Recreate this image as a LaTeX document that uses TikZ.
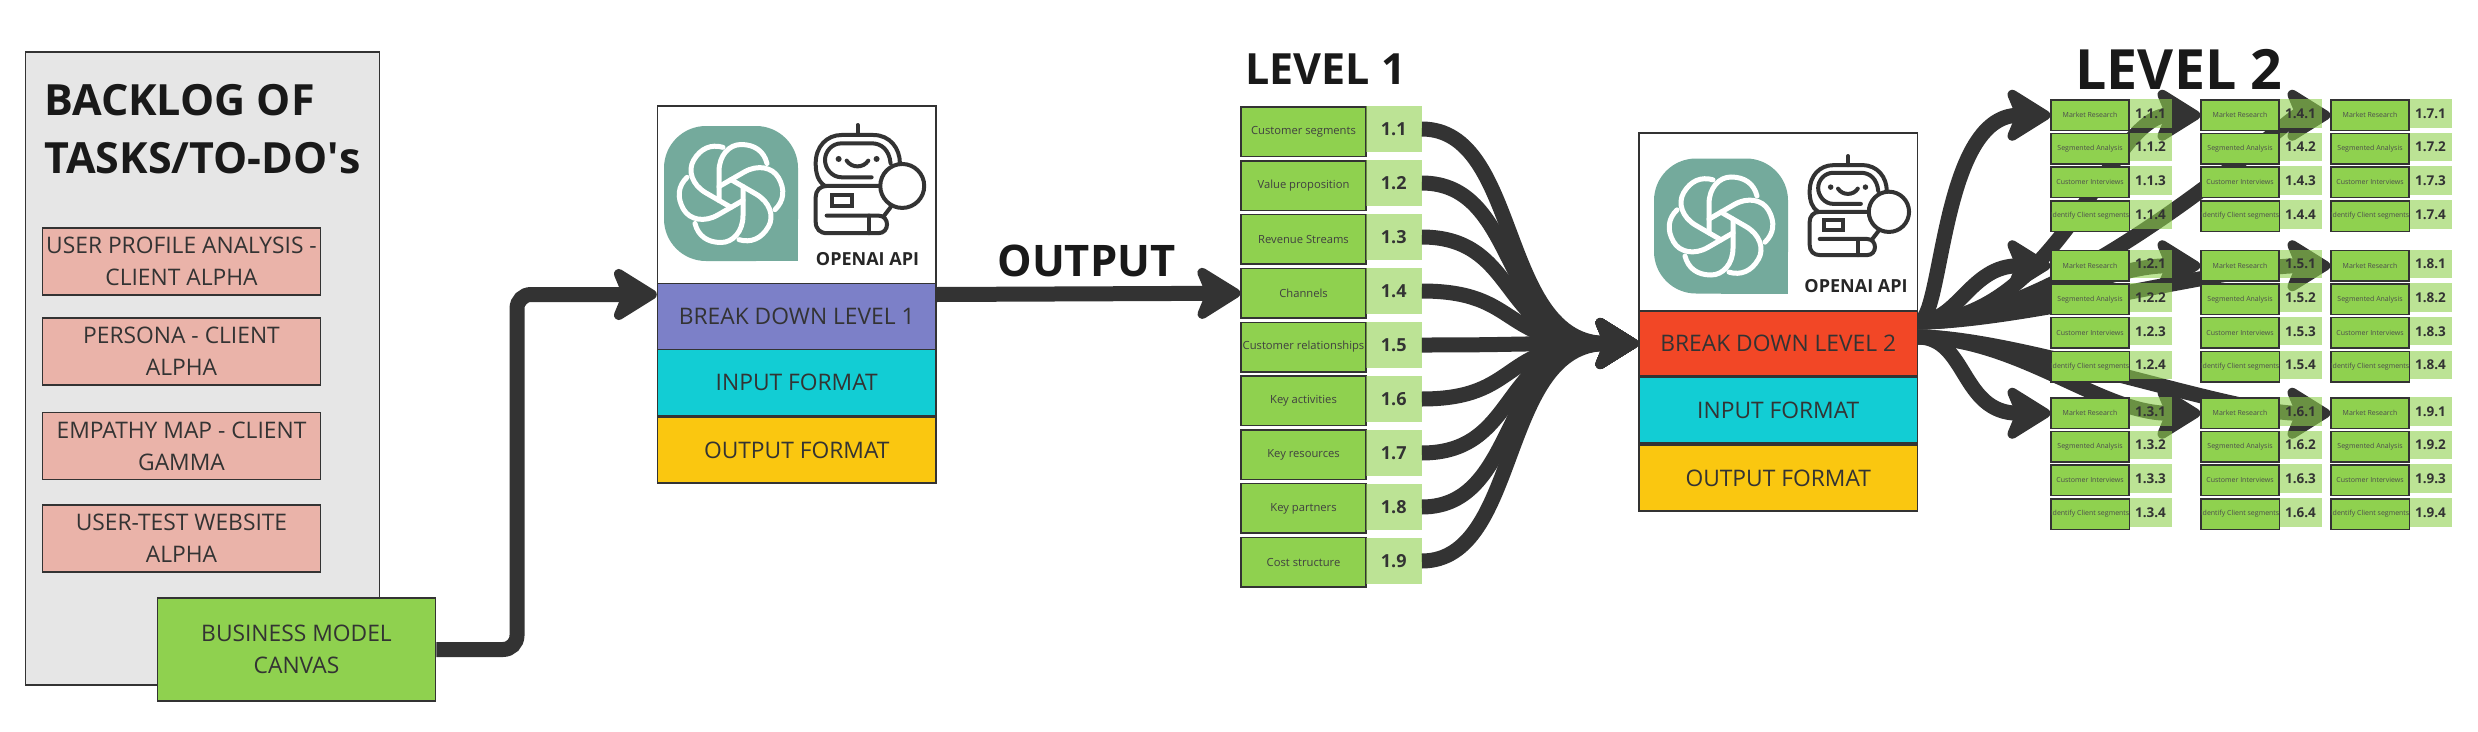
\documentclass[tikz,border=0pt]{standalone}
\usepackage{fontspec}
\setmainfont{Open Sans}
\usepackage{tikz}
\usetikzlibrary{arrows.meta}
\usetikzlibrary{backgrounds}
\definecolor{backloggrey}{HTML}{E6E6E6}
\definecolor{taskred}{HTML}{EAB3A9}
\definecolor{canvasgreen}{HTML}{8FD14F}
\definecolor{bandblue}{HTML}{7C80C8}
\definecolor{bandcyan}{HTML}{12CDD4}
\definecolor{bandyellow}{HTML}{FAC710}
\definecolor{bandred}{HTML}{F24726}
\definecolor{logogreen}{HTML}{74AA9C}
\definecolor{linegrey}{HTML}{333333}
\tikzset{
  bigarrow/.style={draw=linegrey,line width=15pt,-{Stealth[length=52pt,width=64pt,inset=13pt,round]}},
  taskbox/.style={draw=linegrey,line width=1.5pt,fill=taskred,minimum width=278pt,minimum height=67pt,inner sep=0pt,align=center,font=\fontsize{22.8}{32}\selectfont,text=black!80},
  apibox/.style={draw=linegrey,line width=1.5pt,fill=white,minimum width=278.5pt,inner sep=0pt},
  bandbox/.style={draw=linegrey,line width=1.5pt,minimum width=278.5pt,minimum height=66pt,inner sep=0pt,font=\fontsize{22.8}{26}\selectfont,text=black!80},
  segbox/.style={draw=linegrey,line width=1.5pt,fill=canvasgreen,minimum width=125pt,minimum height=49.5pt,inner sep=0pt,font=\fontsize{11.2}{14}\selectfont,text=black!75},
  segnum/.style={fill=canvasgreen,fill opacity=.6,text opacity=1,minimum width=55.5pt,minimum height=46pt,inner sep=0pt,font=\fontsize{18}{20}\selectfont\bfseries,text=black!80},
  cellbox/.style={draw=linegrey,line width=1.5pt,fill=canvasgreen,minimum width=78pt,minimum height=30.5pt,inner sep=0pt,font=\fontsize{7}{9}\selectfont,text=black!70},
  cellnum/.style={fill=canvasgreen,fill opacity=.6,text opacity=1,minimum width=42pt,minimum height=28.5pt,inner sep=0pt,font=\fontsize{13.5}{15}\selectfont\bfseries,text=black!80},
  headline/.style={inner sep=0pt,text=black!90},
}
\newcommand{\gptlogo}[2]{
  \begin{scope}[shift={(#1,#2)}]
    \fill[logogreen,rounded corners=42pt] (-67,-67.5) rectangle (67,67.5);
    \fill[logogreen] (0,0) rectangle (67,67.5);
    \foreach \a in {0,60,...,300}
      \draw[white,line width=5pt,line cap=round,rotate=\a] (-12,7) -- (-12,-22) .. controls (-12,-38) and (-2,-49) .. (10,-49) .. controls (24,-49) and (33,-42) .. (36,-30);
  \end{scope}
}
\newcommand{\robotlogo}[3]{
  \begin{scope}[shift={(#1,#2)},scale=#3,linegrey,line width=4pt,line cap=round]
    \draw (128,0) -- (128,30);
    \draw (30,183) .. controls (10,170) and (2,147) .. (2,115) .. controls (2,65) and (35,30) .. (80,30) -- (175,30) .. controls (225,30) and (255,70) .. (255,115);
    \draw (170,157) -- (80,157) .. controls (50,157) and (30,130) .. (30,105) .. controls (30,80) and (50,55) .. (80,55) -- (170,55) .. controls (200,55) and (223,75) .. (227,115);
    \fill (71,102) circle (9) (185,102) circle (9);
    \draw (95,107) .. controls (110,130) and (145,130) .. (160,107);
    \draw (195,183) -- (35,183) .. controls (15,183) and (2,197) .. (2,217) -- (2,290) .. controls (2,313) and (15,325) .. (37,325) -- (190,325) .. controls (225,325) and (225,272) .. (190,272) -- (35,272);
    \draw (162,272) -- (162,325);
    \draw (50,210) rectangle (110,243);
    \draw (262,183) circle (66);
    \draw (227,247) -- (207,273);
  \end{scope}
}
\begin{document}
\begin{tikzpicture}[x=1pt,y=-1pt]
  \useasboundingbox (0,0) rectangle (2478,731);
  \node[draw=linegrey,line width=1.5pt,fill=backloggrey,minimum width=354pt,minimum height=633pt] (backlog) at (202.5,368.5) {};
  \node[headline,anchor=west,align=left,font=\fontsize{43}{58}\selectfont\bfseries] (backlogtitle) at (44,129) {BACKLOG OF\\TASKS/TO-DO\textquotesingle s};
  \node[taskbox] (taskA) at (181.5,261.5) {USER PROFILE ANALYSIS -\\CLIENT ALPHA};
  \node[taskbox] (taskB) at (181.5,351.5) {PERSONA - CLIENT\\ALPHA};
  \node[taskbox] (taskC) at (181.5,446) {EMPATHY MAP - CLIENT\\GAMMA};
  \node[taskbox] (taskD) at (181.5,538.5) {USER-TEST WEBSITE\\ALPHA};
  \node[taskbox,fill=canvasgreen,minimum height=103pt] (canvas) at (296.5,649.5) {BUSINESS MODEL\\CANVAS};
  \coordinate (elbowA) at (517,470);

  \node[apibox,minimum height=377pt] (apiA) at (796.75,294.5) {};
  \node[bandbox,fill=bandblue] (brkA) at (796.75,316.5) {BREAK DOWN LEVEL 1};
  \node[bandbox,fill=bandcyan] (inA) at (796.75,382.5) {INPUT FORMAT};
  \node[bandbox,fill=bandyellow] (outA) at (796.75,450) {OUTPUT FORMAT};
  \gptlogo{731}{193.5}
  \robotlogo{815}{125}{.333}
  \node[inner sep=0pt,font=\fontsize{18}{20}\selectfont\bfseries,text=black!85] (apiAname) at (867.5,259) {OPENAI API};

  \node[headline,font=\fontsize{43.5}{48}\selectfont\bfseries] (outputlabel) at (1086.5,260.5) {OUTPUT};
  \node[headline,font=\fontsize{43}{48}\selectfont\bfseries] (levelA) at (1325.5,69) {LEVEL 1};
  \node[headline,font=\fontsize{55.5}{60}\selectfont\bfseries] (levelB) at (2179,69) {LEVEL 2};

  \foreach \i/\lbl in {1/Customer segments,2/Value proposition,3/Revenue Streams,4/Channels,5/Customer relationships,6/Key activities,7/Key resources,8/Key partners,9/Cost structure} {
    \node[segbox] (seg\i) at (1303.5,{131.8+53.8*(\i-1)}) {\lbl};
    \node[segnum] (num\i) at (1393.75,{129+54*(\i-1)}) {1.\i};
  }

  \node[apibox,minimum height=378pt] (apiB) at (1778.25,322) {};
  \node[bandbox,fill=bandred,minimum height=65pt] (brkB) at (1778.25,343.5) {BREAK DOWN LEVEL 2};
  \node[bandbox,fill=bandcyan] (inB) at (1778.25,410) {INPUT FORMAT};
  \node[bandbox,fill=bandyellow] (outB) at (1778.25,478) {OUTPUT FORMAT};
  \gptlogo{1721}{226}
  \robotlogo{1809}{156}{.305}
  \node[inner sep=0pt,font=\fontsize{18}{20}\selectfont\bfseries,text=black!85] (apiBname) at (1856,286) {OPENAI API};
  \coordinate (lowB) at (1917.5,337);

  \foreach \blk/\x/\ytop in {1/2090/100,2/2090/250.5,3/2090/398,4/2240/100,5/2240/250.5,6/2240/398,7/2370/100,8/2370/250.5,9/2370/398} {
    \foreach \row/\lbl in {1/Market Research,2/Segmented Analysis,3/Customer Interviews,4/Identify Client segments} {
      \node[cellbox] (cell\blk\row) at (\x,{\ytop+15.25+33.6*(\row-1)}) {\lbl};
      \node[cellnum] (id\blk\row) at (\x+60.5,{\ytop+13.5+33.6*(\row-1)}) {1.\blk.\row};
    }
  }

  \begin{scope}[on background layer]
    \draw[bigarrow,rounded corners=14pt] (canvas.east) -| (elbowA) |- (apiA.west);
    \draw[bigarrow] (apiA.east) -- (seg4.west);
    \foreach \i in {1,...,9}
      \draw[bigarrow] (num\i.east) .. controls +(100,0) and +(-140,0) .. (brkB.west);
    \foreach \blk/\start/\a/\b in {1/apiB.east/25/110,2/apiB.east/40/80,3/lowB/50/90,4/apiB.east/140/90,5/apiB.east/100/100,6/lowB/100/100,7/apiB.east/150/40,8/apiB.east/100/100,9/lowB/100/100}
      \draw[bigarrow] (\start) .. controls +(\a,0) and +(-\b,0) .. (cell\blk1.west);
  \end{scope}
\end{tikzpicture}
\end{document}
